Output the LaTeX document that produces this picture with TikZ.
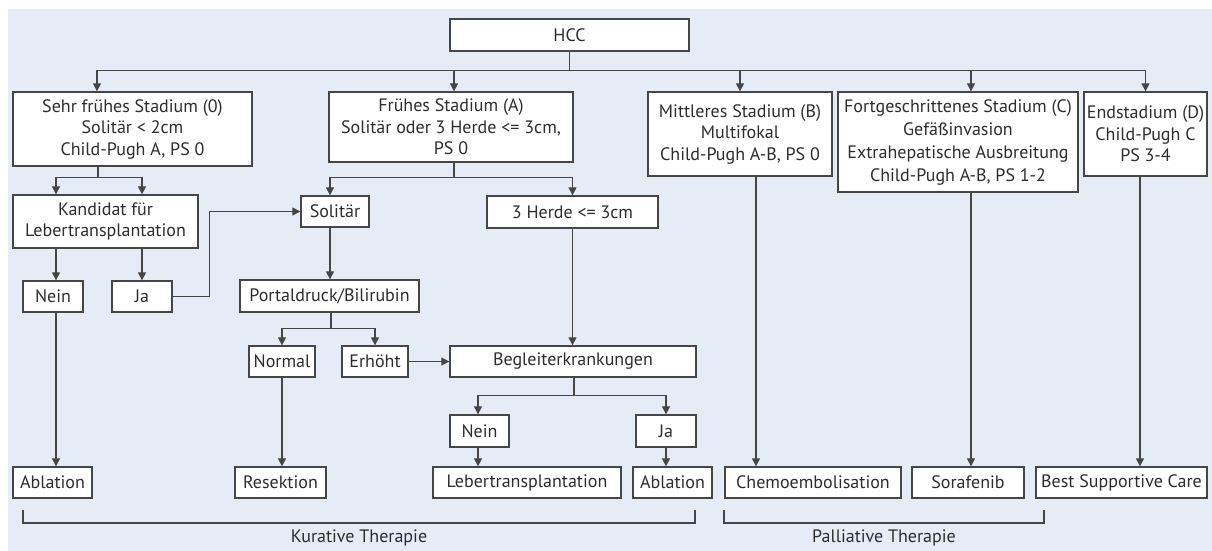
\documentclass[tikz,border=0pt]{standalone}
\usepackage{fontspec}
\setmainfont{PT Sans}
\usetikzlibrary{arrows.meta}
\definecolor{bgblue}{RGB}{229,236,246}
\definecolor{linegray}{RGB}{70,70,70}
\definecolor{txtgray}{RGB}{45,45,45}
\begin{document}
\begin{tikzpicture}[x=1pt,y=-1pt,
  box/.style={draw=linegray,line width=1.3pt,fill=white,inner sep=0pt,align=center,
    text=txtgray,font=\fontsize{18}{21.5}\selectfont},
  arr/.style={draw=linegray,line width=1.2pt,-{Triangle[width=8pt,length=8pt]}},
  ln/.style={draw=linegray,line width=1.2pt},
  lbl/.style={text=txtgray,font=\fontsize{18}{20}\selectfont,inner sep=0pt}]
\useasboundingbox (0,0) rectangle (1212,551);
\fill[white] (0,0) rectangle (1212,551);
\fill[bgblue] (8,9) rectangle (1212,551);
% nodes
\node[box,minimum width=239pt,minimum height=32pt] (hcc) at (569.5,35) {HCC};
\node[box,minimum width=239pt,minimum height=74pt] (b0) at (132.5,129) {Sehr frühes Stadium (0)\\Solitär < 2cm\\Child-Pugh A, PS 0};
\node[box,minimum width=244pt,minimum height=70pt] (bA) at (451,127) {Frühes Stadium (A)\\Solitär oder 3 Herde <= 3cm,\\PS 0};
\node[box,minimum width=184pt,minimum height=84pt] (bB) at (740,134) {Mittleres Stadium (B)\\Multifokal\\Child-Pugh A-B, PS 0};
\node[box,minimum width=240pt,minimum height=100pt,font=\fontsize{18}{23}\selectfont] (bC) at (958,142) {Fortgeschrittenes Stadium (C)\\Gefäßinvasion\\Extrahepatische Ausbreitung\\Child-Pugh A-B, PS 1-2};
\node[box,minimum width=123pt,minimum height=84pt] (bD) at (1145.5,134) {Endstadium (D)\\Child-Pugh C\\PS 3-4};
\node[box,minimum width=185pt,minimum height=53pt] (kand) at (105.5,221.5) {Kandidat für\\Lebertransplantation};
\node[box,minimum width=68pt,minimum height=31pt] (sol) at (335,211.5) {Solitär};
\node[box,minimum width=171pt,minimum height=32pt] (herde) at (572.5,212) {3 Herde <= 3cm};
\node[box,minimum width=60pt,minimum height=31pt] (nein1) at (53,296.5) {Nein};
\node[box,minimum width=60pt,minimum height=31pt] (ja1) at (142,296.5) {Ja};
\node[box,minimum width=179pt,minimum height=32pt] (port) at (329.5,296) {Portaldruck/Bilirubin};
\node[box,minimum width=66pt,minimum height=31pt] (normal) at (282,361.5) {Normal};
\node[box,minimum width=66pt,minimum height=31pt] (erh) at (375,361.5) {Erhöht};
\node[box,minimum width=246pt,minimum height=31pt] (begl) at (573,361.5) {Begleiterkrankungen};
\node[box,minimum width=59pt,minimum height=32pt] (nein2) at (479.5,431) {Nein};
\node[box,minimum width=60pt,minimum height=32pt] (ja2) at (666,431) {Ja};
\node[box,minimum width=79pt,minimum height=31pt] (abl1) at (52.5,482.5) {Ablation};
\node[box,minimum width=91pt,minimum height=31pt] (res) at (280.5,482.5) {Resektion};
\node[box,minimum width=188pt,minimum height=31pt] (leber) at (527,482.5) {Lebertransplantation};
\node[box,minimum width=79pt,minimum height=31pt] (abl2) at (672.5,482.5) {Ablation};
\node[box,minimum width=176pt,minimum height=31pt] (chemo) at (813,482.5) {Chemoembolisation};
\node[box,minimum width=112pt,minimum height=31pt] (sora) at (968,482.5) {Sorafenib};
\node[box,minimum width=171pt,minimum height=31pt] (bsc) at (1121.5,482.5) {Best Supportive Care};
% connectors from HCC
\draw[arr] (hcc.south) -- ++(0,19) -| ([xshift=-35.5pt]b0.north);
\draw[arr] (hcc.south) -- ++(0,19) -| ([xshift=3pt]bA.north);
\draw[arr] (hcc.south) -- ++(0,19) -| (bB.north);
\draw[arr] (hcc.south) -- ++(0,19) -| ([xshift=13pt]bC.north);
\draw[arr] (hcc.south) -- ++(0,19) -| (bD.north);
% stage 0
\draw[arr] ([xshift=-34.5pt]b0.south) -- ++(0,11) -| ([xshift=-49.5pt]kand.north);
\draw[arr] ([xshift=-34.5pt]b0.south) -- ++(0,11) -| ([xshift=36.5pt]kand.north);
\draw[arr] ([xshift=-49.5pt]kand.south) -- ([xshift=-49.5pt]kand.south |- nein1.north);
\draw[arr] ([xshift=36.5pt]kand.south) -- ([xshift=36.5pt]kand.south |- ja1.north);
\draw[arr] (ja1.east) -- ++(37,0) |- (sol.west);
\draw[arr] ([xshift=3pt]nein1.south) -- ([xshift=3pt]nein1.south |- abl1.north);
% stage A
\draw[arr] ([xshift=3pt]bA.south) -- ++(0,15) -| ([xshift=-5pt]sol.north);
\draw[arr] ([xshift=3pt]bA.south) -- ++(0,15) -| (herde.north);
\draw[arr] ([xshift=-5pt]sol.south) -- ([xshift=-5pt]sol.south |- port.north);
\draw[arr] ([xshift=1.5pt]port.south) -- ++(0,16) -| (normal.north);
\draw[arr] ([xshift=1.5pt]port.south) -- ++(0,16) -| (erh.north);
\draw[arr] (erh.east) -- (begl.west);
\draw[arr] (normal.south) -- (normal.south |- res.north);
\draw[arr] (herde.south) -- (herde.south |- begl.north);
\draw[arr] ([xshift=1pt]begl.south) -- ++(0,18) -| ([xshift=-1.5pt]nein2.north);
\draw[arr] ([xshift=1pt]begl.south) -- ++(0,18) -| (ja2.north);
\draw[arr] ([xshift=-1.5pt]nein2.south) -- ([xshift=-1.5pt]nein2.south |- leber.north);
\draw[arr] (ja2.south) -- (ja2.south |- abl2.north);
% stages B, C, D
\draw[arr] ([xshift=16pt]bB.south) -- ([xshift=16pt]bB.south |- chemo.north);
\draw[arr] ([xshift=13pt]bC.south) -- ([xshift=13pt]bC.south |- sora.north);
\draw[arr] ([xshift=-5.5pt]bD.south) -- ([xshift=-5.5pt]bD.south |- bsc.north);
% brackets
\draw[ln] (23,510) -- (23,523) -- (695,523) -- (695,510);
\draw[ln] (724,510) -- (724,523) -- (1044,523) -- (1044,510);
\node[lbl] (kur) at (359,538) {Kurative Therapie};
\node[lbl] (pal) at (884,538) {Palliative Therapie};
\end{tikzpicture}
\end{document}
